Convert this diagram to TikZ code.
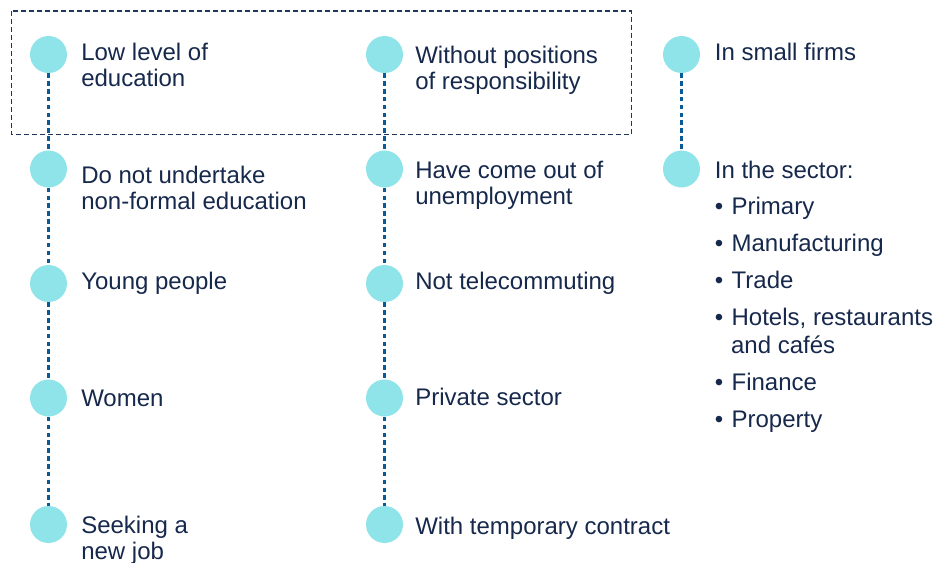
\documentclass[tikz,border=0pt]{standalone}
\usepackage{fontspec}
\setmainfont{Liberation Sans}
\definecolor{circc}{RGB}{143,228,234}
\definecolor{dotc}{RGB}{10,90,152}
\definecolor{txtc}{RGB}{22,40,75}
\definecolor{boxc}{RGB}{30,56,94}
\begin{document}
\begin{tikzpicture}[x=0.75pt,y=-0.75pt,
  dotnode/.style={circle,fill=circc,draw=none,minimum size=27.75pt,inner sep=0pt},
  link/.style={draw=dotc,line width=2.6pt,dash pattern=on 3.4pt off 2.5pt},
  lbl/.style={anchor=base west,inner sep=0pt,text=txtc,font=\fontsize{18}{19.5}\selectfont},
  listlbl/.style={anchor=base west,inner sep=0pt,text=txtc,font=\fontsize{18}{21}\selectfont},
  groupbox/.style={draw=boxc,line width=0.8pt,dash pattern=on 3.75pt off 2.25pt}]
\useasboundingbox (0,0) rectangle (936,563);

% dashed group box
\draw[groupbox] (11.7,11) rectangle (631.7,134.3);

% circles
\node[dotnode] (a1) at (48.5,54.5) {};
\node[dotnode] (a2) at (48.5,169) {};
\node[dotnode] (a3) at (48.5,283.5) {};
\node[dotnode] (a4) at (48.5,398) {};
\node[dotnode] (a5) at (48.5,524.5) {};
\node[dotnode] (b1) at (384.5,54.5) {};
\node[dotnode] (b2) at (384.5,169) {};
\node[dotnode] (b3) at (384.5,283.5) {};
\node[dotnode] (b4) at (384.5,398) {};
\node[dotnode] (b5) at (384.5,524.5) {};
\node[dotnode] (c1) at (681.5,54.5) {};
\node[dotnode] (c2) at (681.5,169) {};

% connectors
\draw[link] (a1.south) -- (a2.north);
\draw[link] (a2.south) -- (a3.north);
\draw[link] (a3.south) -- (a4.north);
\draw[link] (a4.south) -- (a5.north);
\draw[link] (b1.south) -- (b2.north);
\draw[link] (b2.south) -- (b3.north);
\draw[link] (b3.south) -- (b4.north);
\draw[link] (b4.south) -- (b5.north);
\draw[link] (c1.south) -- (c2.north);

% labels
\node[lbl] (ta1) at (81,61) {\begin{tabular}[t]{@{}l@{}}Low level of\\education\end{tabular}};
\node[lbl] (ta2) at (81,183.3) {\begin{tabular}[t]{@{}l@{}}Do not undertake\\non-formal education\end{tabular}};
\node[lbl] (ta3) at (81,289.3) {Young people};
\node[lbl] (ta4) at (81,406.7) {Women};
\node[lbl] (ta5) at (81,533) {\begin{tabular}[t]{@{}l@{}}Seeking a\\new job\end{tabular}};
\node[lbl] (tb1) at (415,64) {\begin{tabular}[t]{@{}l@{}}Without positions\\of responsibility\end{tabular}};
\node[lbl] (tb2) at (415,179) {\begin{tabular}[t]{@{}l@{}}Have come out of\\unemployment\end{tabular}};
\node[lbl] (tb3) at (415,290) {Not telecommuting};
\node[lbl] (tb4) at (415,405.7) {Private sector};
\node[lbl] (tb5) at (415,534) {With temporary contract};
\node[lbl] (tc1) at (714.6,61) {In small firms};
\node[listlbl] (tc2) at (714.6,178.3) {\begin{tabular}[t]{@{}l@{}}In the sector:\\[6.2pt]
\makebox[12.6pt][l]{•}Primary\\[6.8pt]
\makebox[12.6pt][l]{•}Manufacturing\\[6.8pt]
\makebox[12.6pt][l]{•}Trade\\[6.8pt]
\makebox[12.6pt][l]{•}Hotels, restaurants\\
\hspace*{12.2pt}and cafés\\[6.6pt]
\makebox[12.6pt][l]{•}Finance\\[6.8pt]
\makebox[12.6pt][l]{•}Property\end{tabular}};
\end{tikzpicture}
\end{document}
